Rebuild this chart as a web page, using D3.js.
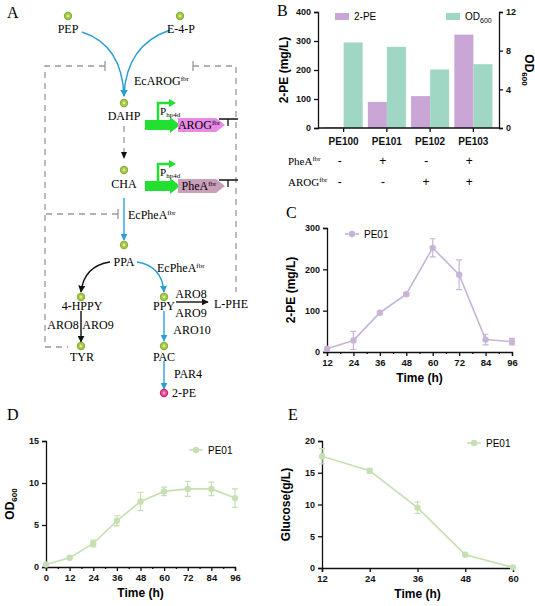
<!DOCTYPE html>
<html><head><meta charset="utf-8">
<script src="https://cdn.jsdelivr.net/npm/d3@7"></script>
<style>body{margin:0;background:#fff}text{font-family:"Liberation Sans",Arial,sans-serif}</style>
</head><body>
<script>
// ---- data ----
var strains = ["PE100", "PE101", "PE102", "PE103"];
var pe2Titers = [3, 90, 110, 322];
var od600Strains = [8.85, 8.4, 6.05, 6.6];
var pheARow = ["-", "+", "-", "+"];
var arogRow = ["-", "-", "+", "+"];

var timeC = [12, 24, 36, 48, 60, 72, 84, 96];
var pe2Time = [8, 28, 95, 140, 252, 187, 30, 25];
var pe2Err = [3, 22, 3, 3, 22, 36, 13, 8];

var timeD = [0, 12, 24, 36, 48, 60, 72, 84, 96];
var odTime = [0.3, 1.1, 2.8, 5.5, 7.8, 9.0, 9.3, 9.3, 8.2];
var odErr = [0.1, 0.1, 0.4, 0.6, 1.1, 0.5, 0.9, 0.8, 1.1];

var timeE = [12, 24, 36, 48, 60];
var glucose = [17.6, 15.3, 9.5, 2.1, 0.1];
var glucoseErr = [1.2, 0.4, 0.9, 0.1, 0.1];

var purple = "#c9a6d6", teal = "#9fd6c4", lilac = "#c8b4d8", green = "#c6e0b4";

var svg = d3.select("body").append("svg").attr("width", 535).attr("height", 606);
var serif = '"Liberation Serif","Times New Roman",serif';

function letter(t, x, y) {
    svg.append("text").attr("x", x).attr("y", y).text(t)
        .style("font-family", serif).style("font-size", "16px");
}

// ---- panel A: pathway diagram ----
var A = svg.append("g");
letter("A", 7, 18);
svg.append("defs").selectAll("marker").data([["ab", "#2a9fd6"], ["ak", "#111"]]).enter()
    .append("marker").attr("id", d => d[0]).attr("viewBox", "0 0 10 10").attr("refX", 9).attr("refY", 5)
    .attr("markerWidth", 5).attr("markerHeight", 5).attr("orient", "auto")
    .append("path").attr("d", "M0,0L10,5L0,10z").attr("fill", d => d[1]);

function dashed(pts) {
    A.append("path").attr("d", d3.line()(pts)).attr("fill", "none").attr("stroke", "#999")
        .attr("stroke-width", 1.3).attr("stroke-dasharray", "6,5");
}
dashed([[105, 66], [45, 66], [45, 347], [68, 347]]);
dashed([[193, 66], [236, 66], [236, 292]]);
dashed([[118, 214], [45, 214]]);
dashed([[124, 126], [124, 156]]);
[[105, 66], [193, 66], [118, 214]].forEach(function (p) {
    A.append("line").attr("x1", p[0]).attr("x2", p[0]).attr("y1", p[1] - 5).attr("y2", p[1] + 5)
        .attr("stroke", "#999").attr("stroke-width", 1.3);
});
function arrow(d, col) {
    A.append("path").attr("d", d).attr("fill", "none").attr("stroke", col == "k" ? "#111" : "#2a9fd6")
        .attr("stroke-width", 1.4).attr("marker-end", "url(#a" + (col == "k" ? "k" : "b") + ")");
}
arrow("M82,32 Q122,45 124,96", "b");
arrow("M170,30 Q126,45 124,96", "b");
A.append("path").attr("d", "M121,152L124,159L127,152z").attr("fill", "#111");
arrow("M124,198 L124,240", "b");
arrow("M110,262 Q84,266 81,292", "k");
arrow("M137,262 Q162,266 164,292", "b");
arrow("M81,311 L81,342", "k");
arrow("M176,302 L208,302", "k");
arrow("M164,311 L164,341", "b");
arrow("M164,361 L164,389", "b");

function dot(x, y, c) {
    A.append("circle").attr("cx", x).attr("cy", y).attr("r", 3.6).attr("fill", c || "#a6c94a")
        .attr("stroke", c ? "#d4207a" : "#8db03a").attr("stroke-width", 1.2);
    A.append("circle").attr("cx", x).attr("cy", y).attr("r", 1.4).attr("fill", c ? "#f3a0c8" : "#d8e89a");
}
[[68, 16], [180, 16], [124, 103], [124, 170], [124, 245], [81, 297], [164, 297], [81, 346], [164, 346]]
    .forEach(p => dot(p[0], p[1]));
dot(164, 393, "#e0508f");

function lab(t, x, y, sup, anchor) {
    var tx = A.append("text").attr("x", x).attr("y", y).attr("text-anchor", anchor || "middle")
        .style("font-family", serif).style("font-size", "12px").text(t);
    if (sup) tx.append("tspan").attr("dy", -4).style("font-size", "7px").text(sup);
}
lab("PEP", 68, 33); lab("E-4-P", 181, 33);
lab("EcAROG", 134, 85, "fbr", "start");
lab("DAHP", 124, 120); lab("CHA", 124, 188);
lab("EcPheA", 128, 219, "fbr", "start");
lab("PPA", 124, 266);
lab("EcPheA", 157, 272, "fbr", "start");
lab("4-HPPY", 82, 310); lab("PPY", 164, 310);
lab("ARO8", 63, 329); lab("ARO9", 98, 329);
lab("ARO8", 191, 298); lab("ARO9", 191, 317); lab("L-PHE", 231, 308);
lab("ARO10", 192, 334);
lab("TYR", 82, 361); lab("PAC", 164, 361);
lab("PAR4", 188, 378);
lab("2-PE", 172, 397, null, "start");

function cassette(y, gene, col) {
    A.append("path").attr("d", `M145,${y - 5}L170,${y - 5}L170,${y - 8}L180,${y}L170,${y + 8}L170,${y + 5}L145,${y + 5}z`).attr("fill", "#22e030");
    A.append("path").attr("d", `M158,${y - 5}L158,${y - 22}L170,${y - 22}`).attr("fill", "none").attr("stroke", "#22e030").attr("stroke-width", 2.5);
    A.append("path").attr("d", `M169,${y - 26}L176,${y - 22}L169,${y - 18}z`).attr("fill", "#22e030");
    A.append("text").attr("x", 160).attr("y", y - 10).style("font-family", serif).style("font-size", "11px")
        .text("P").append("tspan").attr("dy", 2).style("font-size", "7px").text("hp4d");
    A.append("path").attr("d", `M178,${y - 7}L216,${y - 7}L225,${y}L216,${y + 7}L178,${y + 7}z`).attr("fill", col);
    A.append("text").attr("x", 199).attr("y", y + 4).attr("text-anchor", "middle").style("font-family", serif)
        .style("font-size", "12px").text(gene).append("tspan").attr("dy", -4).style("font-size", "7px").text("fbr");
    A.append("path").attr("d", `M219,${y - 6}L238,${y - 6}M228,${y - 6}L228,${y + 1}`).attr("stroke", "#111").attr("stroke-width", 1.3);
}
cassette(125, "AROG", "#e98be6");
cassette(186, "PheA", "#c9a0b9");

// ---- shared helpers ----
function boldAxis(g) {
    g.selectAll("text").style("font-weight", "bold").style("font-size", "9px").attr("fill", "#111");
    g.selectAll("path,line").attr("stroke", "#111").attr("stroke-width", 1.3);
}
function yTitle(x, y, t, sub) {
    var tx = svg.append("text").attr("transform", `translate(${x},${y}) rotate(-90)`).attr("text-anchor", "middle")
        .style("font-weight", "bold").style("font-size", "12px").text(t);
    if (sub) tx.append("tspan").attr("dy", 3).style("font-size", "8px").text(sub);
}

// ---- panel B ----
letter("B", 277, 16);
var xB = d3.scaleBand().domain(strains).range([322, 495]).paddingInner(0.12).paddingOuter(0.06);
var yB = d3.scaleLinear().domain([0, 400]).range([128, 12]);
var yB2 = d3.scaleLinear().domain([0, 12]).range([128, 12]);
var bw = xB.bandwidth() / 2;
svg.selectAll(".b1").data(strains).enter().append("rect")
    .attr("x", d => xB(d)).attr("width", bw).attr("y", (d, i) => yB(pe2Titers[i]))
    .attr("height", (d, i) => 128 - yB(pe2Titers[i])).attr("fill", purple);
svg.selectAll(".b2").data(strains).enter().append("rect")
    .attr("x", d => xB(d) + bw).attr("width", bw).attr("y", (d, i) => yB2(od600Strains[i]))
    .attr("height", (d, i) => 128 - yB2(od600Strains[i])).attr("fill", teal);
svg.append("g").attr("transform", "translate(318,0)").call(d3.axisLeft(yB).tickValues([0, 100, 200, 300, 400]).tickSize(4)).call(boldAxis);
svg.append("g").attr("transform", "translate(499,0)").call(d3.axisRight(yB2).tickValues([0, 4, 8, 12]).tickSize(4)).call(boldAxis);
var gbx = svg.append("g").attr("transform", "translate(0,128)").call(d3.axisBottom(xB).tickSize(4)).call(boldAxis);
gbx.select(".domain").attr("d", "M318,0H499");
gbx.selectAll("text").style("font-size", "10px").attr("dy", "1em");
yTitle(288, 70, "2-PE (mg/L)");
svg.append("text").attr("transform", "translate(525,70) rotate(90)").attr("text-anchor", "middle")
    .style("font-weight", "bold").style("font-size", "12px").text("OD").append("tspan").attr("dy", 3).style("font-size", "8px").text("600");
svg.append("rect").attr("x", 335).attr("y", 13).attr("width", 14).attr("height", 7).attr("fill", purple);
svg.append("text").attr("x", 354).attr("y", 20).style("font-size", "10px").text("2-PE");
svg.append("rect").attr("x", 446).attr("y", 13).attr("width", 14).attr("height", 7).attr("fill", teal);
svg.append("text").attr("x", 465).attr("y", 20).style("font-size", "10px").text("OD").append("tspan").attr("dy", 3).style("font-size", "7px").text("600");
[["PheA", pheARow, 165], ["AROG", arogRow, 186]].forEach(function (r) {
    svg.append("text").attr("x", 288).attr("y", r[2]).style("font-family", serif).style("font-size", "11px")
        .text(r[0]).append("tspan").attr("dy", -4).style("font-size", "7px").text("fbr");
    svg.selectAll(null).data(r[1]).enter().append("text").attr("x", (d, i) => xB(strains[i]) + xB.bandwidth() / 2 - 4)
        .attr("y", r[2]).attr("text-anchor", "middle").style("font-size", "12px").text(d => d);
});

// ---- line panels ----
function linePanel(o) {
    var x = d3.scaleLinear().domain(o.xd).range(o.xr);
    var y = d3.scaleLinear().domain(o.yd).range(o.yr);
    var ax = svg.append("g").attr("transform", `translate(0,${o.yr[0]})`)
        .call(d3.axisBottom(x).tickValues(o.xt).tickSize(4)).call(boldAxis);
    if (o.minor) svg.append("g").attr("transform", `translate(0,${o.yr[0]})`)
        .call(d3.axisBottom(x).tickValues(o.minor).tickSize(2).tickFormat("")).call(boldAxis).select(".domain").remove();
    ax.selectAll("text").style("font-size", "9.5px");
    svg.append("g").attr("transform", `translate(${o.xr[0]},0)`)
        .call(d3.axisLeft(y).tickValues(o.yt).tickSize(4)).call(boldAxis);
    var pts = o.xs.map((v, i) => [v, o.ys[i], o.es[i]]);
    svg.append("path").attr("d", d3.line().x(d => x(d[0])).y(d => y(d[1]))(pts))
        .attr("fill", "none").attr("stroke", o.col).attr("stroke-width", 1.6);
    pts.forEach(function (d) {
        svg.append("path").attr("d", `M${x(d[0]) - 3},${y(d[1] + d[2])}h6M${x(d[0])},${y(d[1] + d[2])}V${y(d[1] - d[2])}M${x(d[0]) - 3},${y(d[1] - d[2])}h6`)
            .attr("stroke", o.col).attr("stroke-width", 1.2).attr("fill", "none");
        svg.append("circle").attr("cx", x(d[0])).attr("cy", y(d[1])).attr("r", 3.2).attr("fill", o.col);
    });
    svg.append("line").attr("x1", o.leg[0] - 7).attr("x2", o.leg[0] + 7).attr("y1", o.leg[1]).attr("y2", o.leg[1]).attr("stroke", o.col).attr("stroke-width", 1.6);
    svg.append("circle").attr("cx", o.leg[0]).attr("cy", o.leg[1]).attr("r", 3.2).attr("fill", o.col);
    svg.append("text").attr("x", o.leg[0] + 12).attr("y", o.leg[1] + 4).style("font-size", "10px").text("PE01");
    svg.append("text").attr("x", (o.xr[0] + o.xr[1]) / 2).attr("y", o.yr[0] + 30).attr("text-anchor", "middle")
        .style("font-weight", "bold").style("font-size", "12px").text("Time (h)");
    yTitle(o.xr[0] - 32, (o.yr[0] + o.yr[1]) / 2, o.title, o.sub);
}

letter("C", 286, 218);
linePanel({ xd: [12, 96], xr: [327, 512], yd: [0, 300], yr: [352, 228], xt: timeC, yt: [0, 100, 200, 300],
    minor: [18, 30, 42, 54, 66, 78, 90], xs: timeC, ys: pe2Time, es: pe2Err, col: lilac, leg: [352, 234], title: "2-PE (mg/L)" });

letter("D", 7, 420);
linePanel({ xd: [0, 96], xr: [46, 235], yd: [0, 15], yr: [567, 441], xt: d3.range(0, 97, 12), yt: [0, 5, 10, 15],
    minor: d3.range(6, 96, 12), xs: timeD, ys: odTime, es: odErr, col: green, leg: [196, 450], title: "OD", sub: "600" });

letter("E", 288, 420);
linePanel({ xd: [12, 60], xr: [322, 513], yd: [0, 20], yr: [568, 441], xt: timeE, yt: [0, 5, 10, 15, 20],
    xs: timeE, ys: glucose, es: glucoseErr, col: green, leg: [474, 443], title: "Glucose(g/L)" });
</script>
</body></html>
